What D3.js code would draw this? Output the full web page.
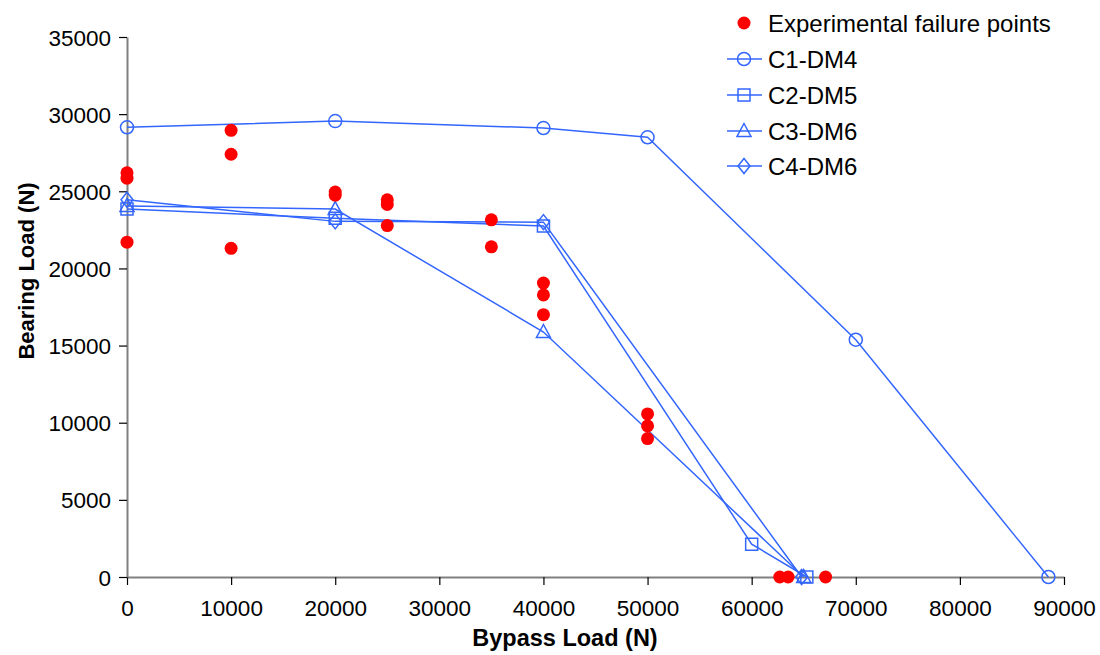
<!DOCTYPE html>
<html><head><meta charset="utf-8">
<script src="https://cdn.jsdelivr.net/npm/d3@7"></script>
<style>
body{margin:0;background:#fff;}
svg text{font-family:Arial,"Liberation Sans",sans-serif;fill:#000;}
</style></head>
<body><svg id="chart" width="1100" height="655"></svg>
<script>
// ---- data ----
const expX = [0, 0, 0, 10000, 10000, 10000, 20000, 20000, 25000, 25000, 25000, 35000, 35000, 40000, 40000, 40000, 50000, 50000, 50000, 62700, 63500, 67100];
const expY = [26200, 25850, 21700, 28950, 27400, 21300, 24950, 24750, 24450, 24150, 22780, 23150, 21400, 19050, 18280, 17000, 10570, 9790, 8970, 0, 0, 0];

const c1X = [0, 20000, 40000, 50000, 70000, 88500];
const c1Y = [29150, 29550, 29100, 28500, 15380, 0];
const c2X = [0, 20000, 40000, 60000, 65300];
const c2Y = [23850, 23250, 22750, 2130, 0];
const c3X = [0, 20000, 40000, 65000];
const c3Y = [24050, 23850, 15880, 0];
const c4X = [0, 20000, 40000, 64800];
const c4Y = [24450, 23050, 23000, 0];

const seriesNames = ["C1-DM4", "C2-DM5", "C3-DM6", "C4-DM6"];
const seriesShapes = ["circle", "square", "triangle", "diamond"];
const expName = "Experimental failure points";
const xTicks = [0, 10000, 20000, 30000, 40000, 50000, 60000, 70000, 80000, 90000];
const yTicks = [0, 5000, 10000, 15000, 20000, 25000, 30000, 35000];
const xTitle = "Bypass Load (N)";
const yTitle = "Bearing Load (N)";

// ---- drawing ----
const svg = d3.select("#chart");
const mLeft = 127, mRight = 1064, mTop = 37, mBottom = 577;
const x = d3.scaleLinear().domain([0, 90000]).range([mLeft, mRight]);
const y = d3.scaleLinear().domain([0, 35000]).range([mBottom, mTop]);
const blue = "#3366FF", red = "#FF0000", axisCol = "#808080";

function shapePath(kind) {
  if (kind === "circle") return "M6.5,0A6.5,6.5 0 1,1 -6.5,0A6.5,6.5 0 1,1 6.5,0Z";
  if (kind === "square") return "M-6,-6H6V6H-6Z";
  if (kind === "triangle") return "M0,-7.5L7,5.5L-7,5.5Z";
  return "M0,-7.5L6,0L0,7.5L-6,0Z";
}

// axes
const xAxis = d3.axisBottom(x).tickValues(xTicks).tickSize(8).tickSizeOuter(0).tickFormat(d3.format("d"));
const gx = svg.append("g").attr("transform", `translate(0,${mBottom})`).call(xAxis);
gx.select(".domain").attr("stroke", axisCol).attr("stroke-width", 2);
gx.selectAll(".tick line").attr("stroke", "#000").attr("stroke-width", 1.2);
gx.selectAll(".tick text").attr("font-size", 22.5).attr("dy", null).attr("y", 39)
  .attr("font-family", "Arial, Liberation Sans, sans-serif");

const yAxis = d3.axisLeft(y).tickValues(yTicks).tickSize(8).tickSizeOuter(0).tickFormat(d3.format("d"));
const gy = svg.append("g").attr("transform", `translate(${mLeft},0)`).call(yAxis);
gy.select(".domain").attr("stroke", axisCol).attr("stroke-width", 2);
gy.selectAll(".tick line").attr("stroke", "#000").attr("stroke-width", 1.2);
gy.selectAll(".tick text").attr("font-size", 22.5).attr("x", -16).attr("dy", "0.36em")
  .attr("font-family", "Arial, Liberation Sans, sans-serif");

// titles
svg.append("text").attr("x", 565).attr("y", 646).attr("text-anchor", "middle")
  .attr("font-size", 23.5).attr("font-weight", "bold").text(xTitle);
svg.append("text").attr("transform", "translate(34,271) rotate(-90)").attr("text-anchor", "middle")
  .attr("font-size", 22).attr("font-weight", "bold").text(yTitle);

// series lines
const allX = [c1X, c2X, c3X, c4X], allY = [c1Y, c2Y, c3Y, c4Y];
const line = d3.line().x(d => x(d[0])).y(d => y(d[1]));
allX.forEach((xs, i) => {
  const pts = xs.map((v, j) => [v, allY[i][j]]);
  svg.append("path").attr("d", line(pts)).attr("fill", "none").attr("stroke", blue).attr("stroke-width", 1.5);
  svg.append("g").selectAll("path").data(pts).join("path")
    .attr("transform", d => `translate(${x(d[0])},${y(d[1])})`)
    .attr("d", shapePath(seriesShapes[i])).attr("fill", "none").attr("stroke", blue).attr("stroke-width", 1.5);
});

// experimental points
svg.append("g").selectAll("circle").data(expX.map((v, i) => [v, expY[i]])).join("circle")
  .attr("cx", d => x(d[0])).attr("cy", d => y(d[1])).attr("r", 6.5).attr("fill", red);

// legend
const lg = svg.append("g");
const rowY = [23, 59, 95, 131, 166];
lg.append("circle").attr("cx", 744).attr("cy", rowY[0]).attr("r", 6.5).attr("fill", red);
lg.append("text").attr("x", 768).attr("y", rowY[0]).attr("dy", "0.36em").attr("font-size", 24).text(expName);
seriesNames.forEach((n, i) => {
  const yy = rowY[i + 1];
  lg.append("line").attr("x1", 727).attr("x2", 762).attr("y1", yy).attr("y2", yy).attr("stroke", blue).attr("stroke-width", 1.5);
  lg.append("path").attr("transform", `translate(744,${yy})`).attr("d", shapePath(seriesShapes[i]))
    .attr("fill", "none").attr("stroke", blue).attr("stroke-width", 1.5);
  lg.append("text").attr("x", 768).attr("y", yy).attr("dy", "0.36em").attr("font-size", 24).text(n);
});
</script></body></html>
